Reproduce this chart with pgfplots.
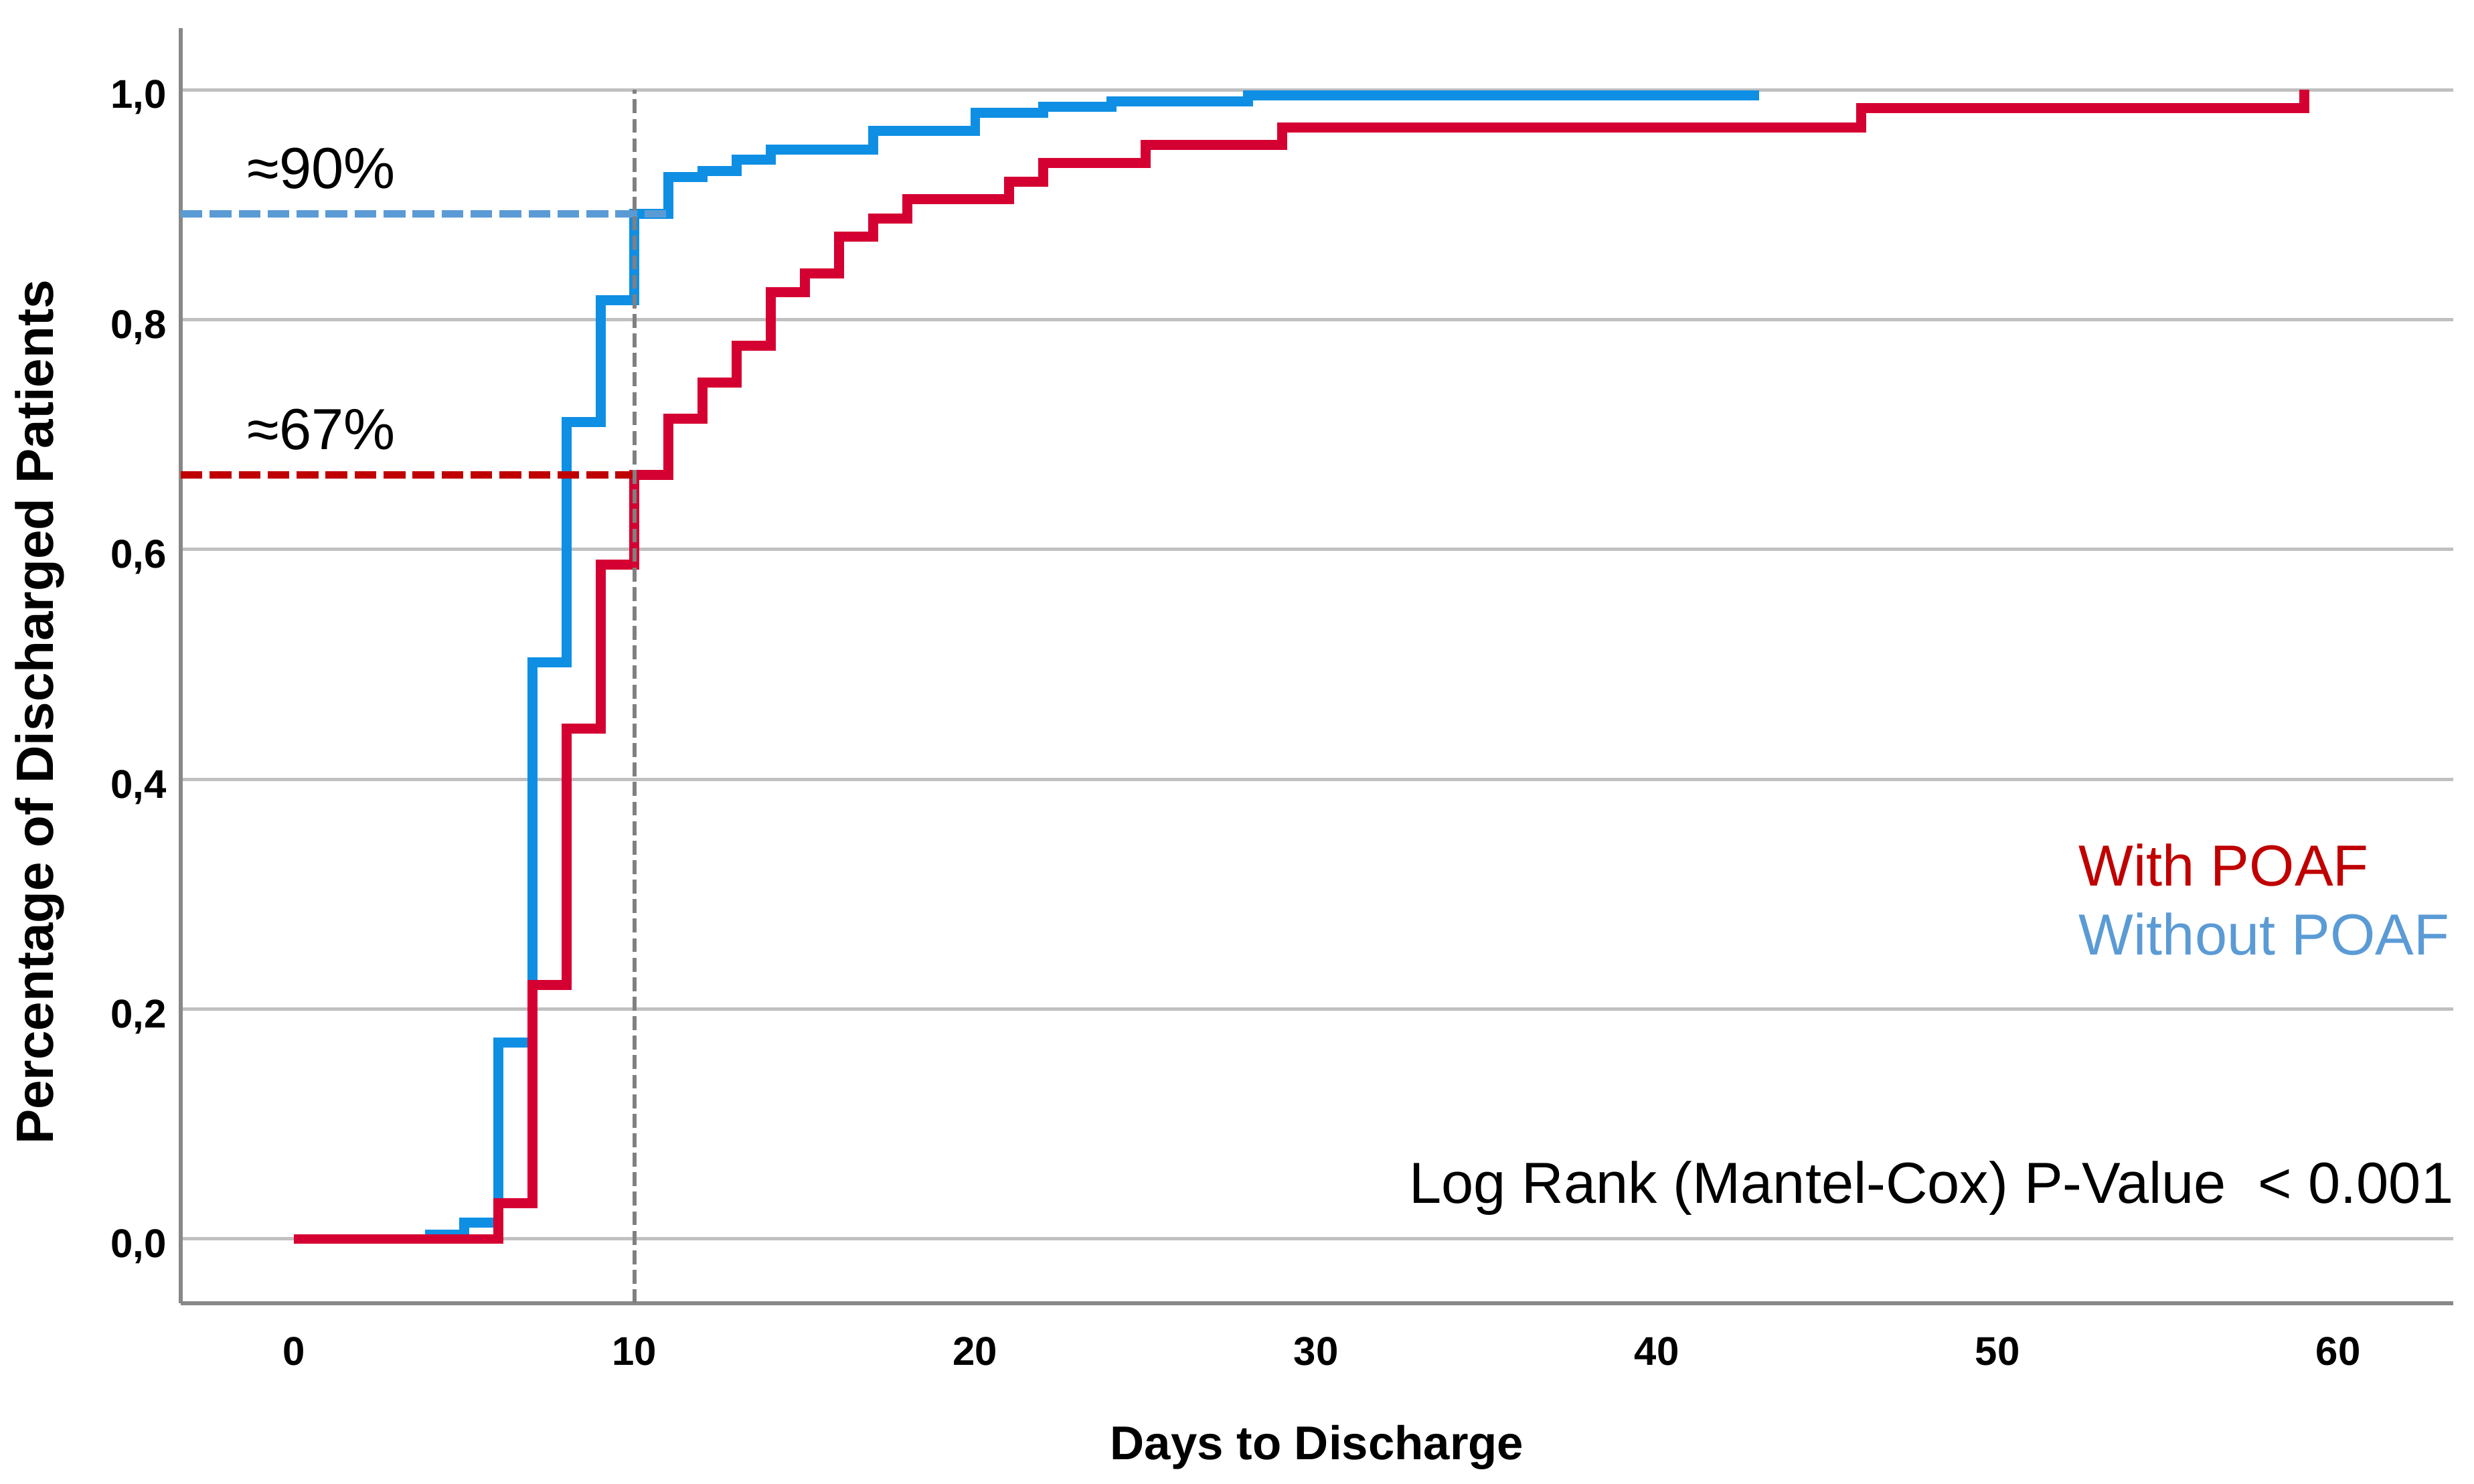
\documentclass[border=0pt]{standalone}
\usepackage{fontspec}
\setmainfont{Liberation Sans}
\usepackage{pgfplots}
\pgfplotsset{compat=1.18}

\definecolor{kmblue}{HTML}{0F8FE4}
\definecolor{kmred}{HTML}{D50032}
\definecolor{refblue}{HTML}{5B9BD5}
\definecolor{refred}{HTML}{C00000}
\definecolor{axisgray}{HTML}{888888}
\definecolor{gridgray}{HTML}{C0C0C0}
\definecolor{vgray}{HTML}{808080}

\begin{document}
\begin{tikzpicture}
\begin{axis}[
    scale only axis,
    width=14.3296cm, height=8.0406cm,
    xmin=-3.32, xmax=63.38,
    ymin=-0.0559, ymax=1.0536,
    axis x line*=bottom, axis y line*=left,
    axis line style={draw=axisgray, line width=0.8pt, -},
    xtick={0,10,20,30,40,50,60},
    ytick={0,0.2,0.4,0.6,0.8,1},
    major tick length=0pt,
    ymajorgrids,
    major grid style={gridgray, line width=0.6pt},
    /pgf/number format/assume math mode=true,
    ticklabel style={font=\fontsize{7.2}{8.5}\selectfont\bfseries},
    yticklabel style={/pgf/number format/fixed, /pgf/number format/fixed zerofill,
        /pgf/number format/precision=1, /pgf/number format/use comma,
        xshift=1pt, yshift=-1.4pt},
    xticklabel style={yshift=-2.6pt},
    xlabel={Days to Discharge},
    ylabel={Percentage of Discharged Patients},
    xlabel style={font=\fontsize{8.5}{10}\selectfont\bfseries,
        at={(axis description cs:0.5,-0.113)}, anchor=center},
    ylabel style={font=\fontsize{9.4}{11}\selectfont\bfseries,
        at={(axis description cs:-0.0619,0.4635)}, anchor=center},
    clip=false,
]

% Without POAF
\addplot[const plot, kmblue, line width=1.8pt] coordinates {
    (0,0) (4,0.004) (5,0.014) (6,0.171) (7,0.502) (8,0.711) (9,0.817)
    (10,0.892) (11,0.924) (12,0.929) (13,0.939) (14,0.948) (17,0.964)
    (20,0.980) (22,0.985) (24,0.990) (28,0.995) (43,0.995)
};

% With POAF
\addplot[const plot, kmred, line width=1.8pt] coordinates {
    (0,0) (6,0.031) (7,0.221) (8,0.444) (9,0.587) (10,0.665) (11,0.714)
    (12,0.745) (13,0.777) (14,0.824) (15,0.840) (16,0.872) (17,0.888)
    (18,0.905) (21,0.920) (22,0.936) (25,0.952) (29,0.967) (46,0.984) (59,1.0)
};

% reference lines
\addplot[refblue, line width=1.3pt, dash pattern=on 3.9pt off 1.3pt]
    coordinates {(-3.32,0.892) (11,0.892)};
\addplot[refred, line width=1.3pt, dash pattern=on 3.9pt off 1.3pt]
    coordinates {(-3.32,0.665) (10,0.665)};
\addplot[vgray, line width=0.8pt, dash pattern=on 2.5pt off 1pt]
    coordinates {(10,-0.0559) (10,1)};

\node[anchor=base west, inner sep=0, font=\fontsize{10.4}{12}\selectfont]
    at (axis cs:-1.39,0.914) {≈90\%};
\node[anchor=base west, inner sep=0, font=\fontsize{10.4}{12}\selectfont]
    at (axis cs:-1.39,0.687) {≈67\%};
\node[anchor=base west, inner sep=0, text=refred, font=\fontsize{10.4}{12}\selectfont]
    at (axis cs:52.36,0.307) {With POAF};
\node[anchor=base west, inner sep=0, text=refblue, font=\fontsize{10.4}{12}\selectfont]
    at (axis cs:52.36,0.247) {Without POAF};
\node[anchor=base west, inner sep=0, font=\fontsize{10.4}{12}\selectfont]
    at (axis cs:32.7,0.031) {Log Rank (Mantel-Cox) P-Value\ \ < 0.001};

\coordinate (bl) at (rel axis cs:0,0);
\coordinate (tr) at (rel axis cs:1,1);
\end{axis}
\pgfresetboundingbox
\path ([xshift=-1.1396cm,yshift=-1.1396cm]bl) rectangle ([xshift=0.1308cm,yshift=0.1773cm]tr);
\end{tikzpicture}
\end{document}
